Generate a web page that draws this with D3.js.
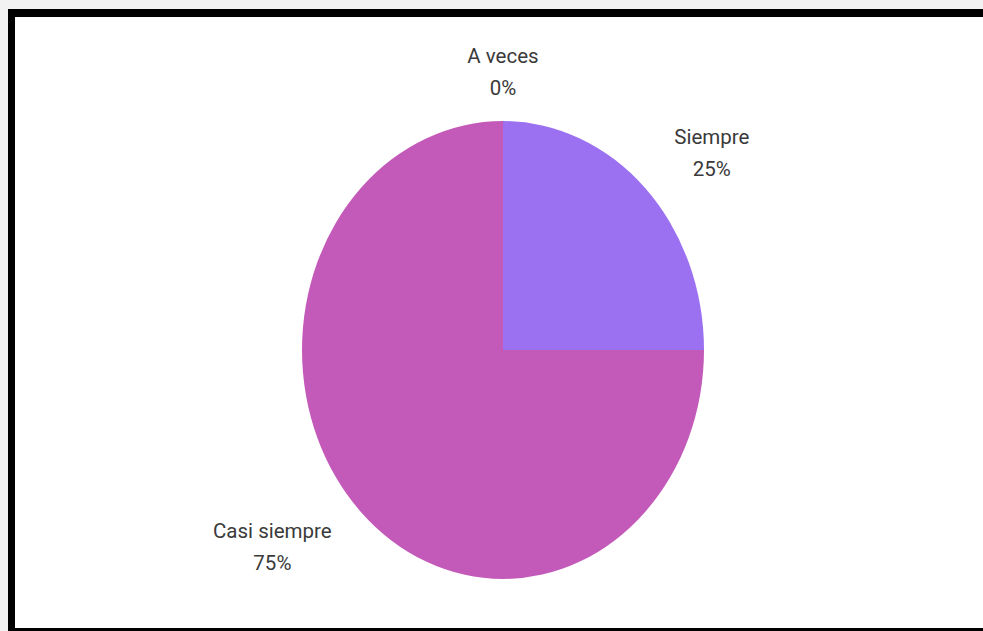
<!DOCTYPE html>
<html>
<head>
<meta charset="utf-8">
<script src="https://cdn.jsdelivr.net/npm/d3@7"></script>
<style>
  html, body { margin: 0; padding: 0; background: #ffffff; }
  svg { display: block; }
</style>
</head>
<body>
<svg id="chart" width="983" height="631"></svg>
<script>
const categories = ["Siempre", "Casi siempre", "A veces"];
const values = [25, 75, 0];
const percentLabels = ["25%", "75%", "0%"];
const colors = ["#9b71f1", "#c35ab9", "#5c9be6"];

const W = 983, H = 631;
const svg = d3.select("#chart");

// outer light background and black frame
svg.append("rect").attr("x", 0).attr("y", 0).attr("width", W).attr("height", H).attr("fill", "#f2f2f2");
svg.append("rect").attr("x", 8).attr("y", 9).attr("width", W - 8 + 10).attr("height", H - 9 + 10).attr("fill", "#000");
svg.append("rect").attr("x", 15).attr("y", 17).attr("width", W - 15 + 10).attr("height", 628 - 17).attr("fill", "#fff");

const cx = 503, cy = 350, rx = 201, ry = 229;

const data = categories.map((c, i) => ({ name: c, value: values[i], pct: percentLabels[i], color: colors[i] }));

const pie = d3.pie().value(d => d.value).sort(null).startAngle(0).endAngle(2 * Math.PI);
const arcs = pie(data);
const arc = d3.arc().innerRadius(0).outerRadius(1);

const g = svg.append("g").attr("transform", `translate(${cx},${cy}) scale(${rx},${ry})`);
g.selectAll("path").data(arcs.filter(a => a.data.value > 0)).enter().append("path")
  .attr("d", arc)
  .attr("fill", d => d.data.color);

// labels
const kx = 1.205, ky = 1.215, lineGap = 32, fs = 20.5;
const labels = svg.append("g");
arcs.forEach(a => {
  const mid = (a.startAngle + a.endAngle) / 2;
  const s = Math.sin(mid), c = Math.cos(mid);
  const x = cx + rx * kx * s;
  const y = cy - ry * ky * c;
  const anchor = Math.abs(s) < 0.1 ? "middle" : (s > 0 ? "start" : "end");
  const t = labels.append("text")
    .attr("x", x).attr("y", y)
    .attr("text-anchor", anchor)
    .attr("font-family", "Roboto, sans-serif")
    .attr("font-size", fs)
    .attr("fill", "#3a3a3a");
  t.append("tspan").attr("x", x).attr("dy", -lineGap / 2 + fs * 0.35).text(a.data.name);
  t.append("tspan").attr("x", x).attr("dy", lineGap).text(a.data.pct);
});

// center the percentage line under the name
labels.selectAll("text").each(function() {
  const t = d3.select(this);
  const anchor = t.attr("text-anchor");
  if (anchor !== "middle") {
    const spans = t.selectAll("tspan").nodes();
    const w = spans[0].getComputedTextLength();
    const x = +t.attr("x");
    const centerX = anchor === "start" ? x + w / 2 : x - w / 2;
    d3.select(spans[0]).attr("x", centerX);
    d3.select(spans[1]).attr("x", centerX);
    t.attr("text-anchor", "middle");
  }
});
</script>
</body>
</html>
